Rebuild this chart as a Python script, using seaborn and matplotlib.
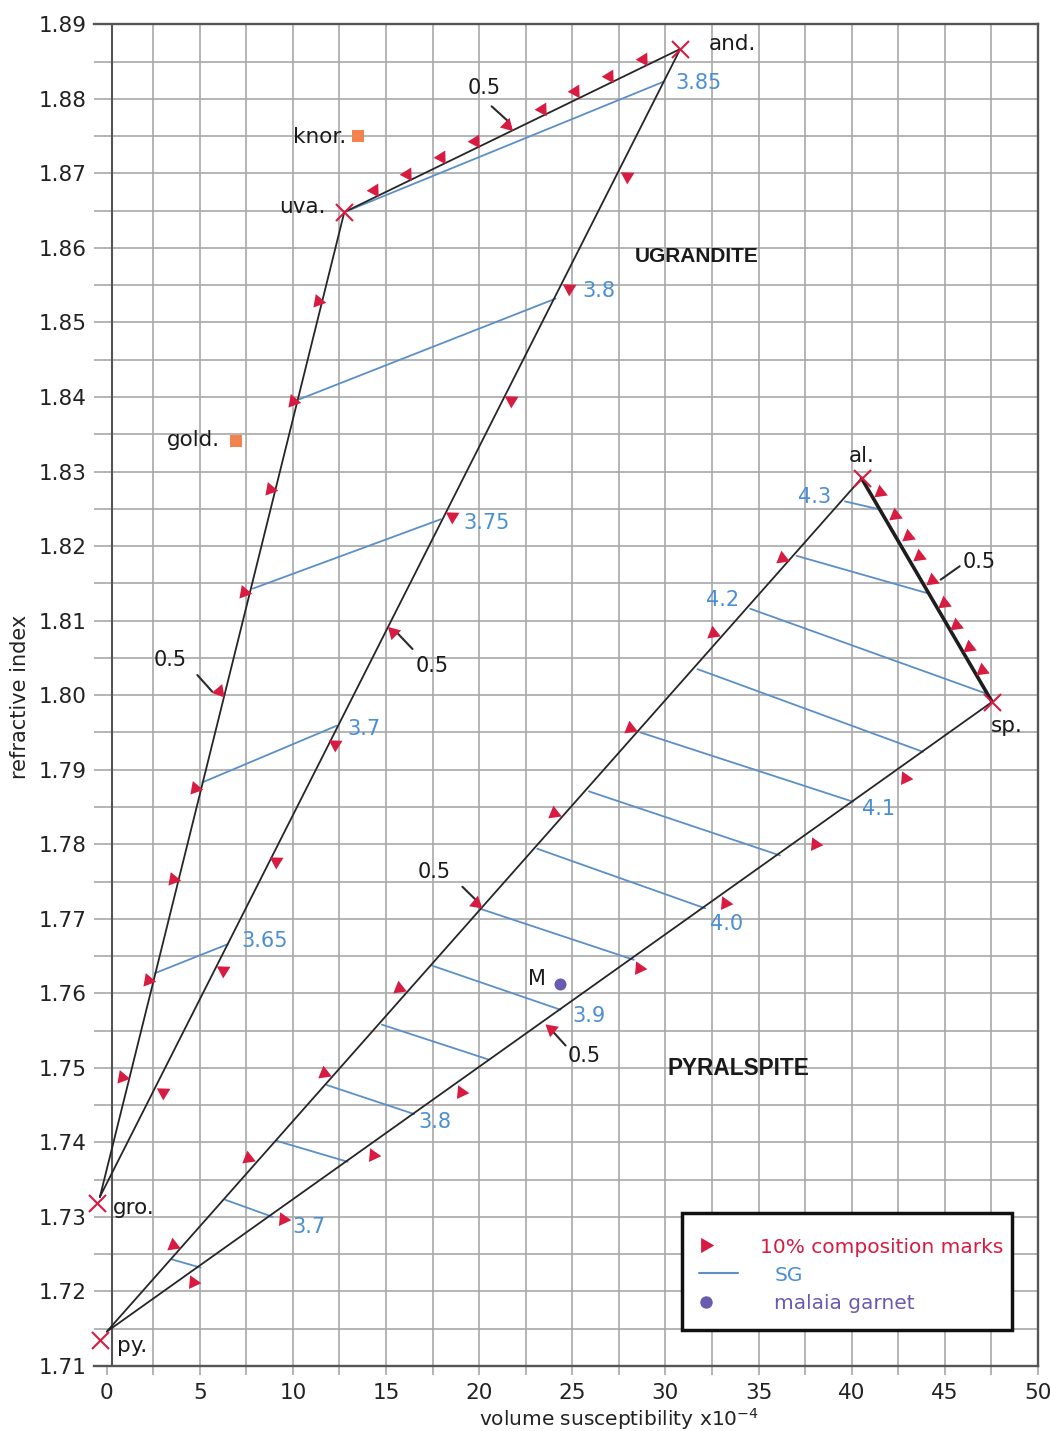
import numpy as np
import pandas as pd
import matplotlib
matplotlib.use("Agg")
import matplotlib.pyplot as plt
import seaborn as sns
from matplotlib.patches import Rectangle

# ---------------- data ----------------
# end-member marker positions
em_labels = ["py.", "gro.", "uva.", "and.", "al.", "sp."]
em_x = [-0.36, -0.54, 12.76, 30.80, 40.53, 47.54]
em_y = [1.7135, 1.7319, 1.8648, 1.8867, 1.8291, 1.7991]

# end-member label anchors
em_lab_x = [0.57, 0.32, 11.78, 32.31, 40.53, 47.49]
em_lab_y = [1.7129, 1.7315, 1.8658, 1.8876, 1.8324, 1.7961]
em_lab_ha = ["left", "left", "right", "left", "center", "left"]

# ugrandite triangle outline: gro -> uva -> and -> gro
ugr_x = [-0.36, 12.76, 30.80, -0.36]
ugr_y = [1.7327, 1.8648, 1.8867, 1.7327]
# pyralspite outline: al -> py -> sp
pyr_x = [40.53, 0.0, 47.54]
pyr_y = [1.8291, 1.7146, 1.7991]
# al - sp join (heavier)
alsp_x = [40.53, 47.54]
alsp_y = [1.8291, 1.7991]

# SG iso-lines, ugrandite
ugr_sg = [3.65, 3.70, 3.75, 3.80, 3.85]
ugr_sg_x0 = [2.59, 5.14, 7.85, 10.35, 12.76]
ugr_sg_y0 = [1.7627, 1.7883, 1.8143, 1.8397, 1.8648]
ugr_sg_x1 = [6.51, 12.35, 17.94, 24.10, 29.90]
ugr_sg_y1 = [1.7666, 1.7959, 1.8236, 1.8532, 1.8823]

# SG iso-lines, pyralspite
pyr_sg = [3.65, 3.70, 3.75, 3.80, 3.85, 3.90, 3.95, 4.00, 4.05, 4.10, 4.15, 4.20, 4.25, 4.30]
pyr_sg_x0 = [3.51, 6.37, 9.14, 11.82, 14.78, 17.49, 19.99, 23.12, 25.89, 28.66, 31.72, 34.55, 37.04, 39.64]
pyr_sg_y0 = [1.7243, 1.7323, 1.7402, 1.7477, 1.7558, 1.7637, 1.7714, 1.7794, 1.7871, 1.7950, 1.8035, 1.8116, 1.8187, 1.8260]
pyr_sg_x1 = [5.05, 8.92, 12.94, 16.51, 20.53, 24.37, 28.30, 32.14, 36.15, 40.08, 43.83, 47.13, 44.04, 41.37]
pyr_sg_y1 = [1.7232, 1.7300, 1.7374, 1.7438, 1.7511, 1.7578, 1.7645, 1.7714, 1.7785, 1.7857, 1.7924, 1.8003, 1.8137, 1.8250]

# SG labels
ugr_lab = ["3.65", "3.7", "3.75", "3.8", "3.85"]
ugr_lab_x = [7.26, 12.93, 19.14, 25.53, 30.53]
ugr_lab_y = [1.7673, 1.7957, 1.8234, 1.8545, 1.8824]
pyr_lab = ["3.7", "3.8", "3.9", "4.0", "4.1", "4.2", "4.3"]
pyr_lab_x = [9.96, 16.74, 24.99, 32.37, 40.56, 32.19, 37.13]
pyr_lab_y = [1.7289, 1.7430, 1.7572, 1.7696, 1.7850, 1.8130, 1.8269]

# 10% composition marks along each join (10 % ... 90 %)
uva_and_x = [14.37, 16.10, 17.94, 19.78, 21.51, 23.39, 25.17, 26.96, 28.78]
uva_and_y = [1.8678, 1.8699, 1.8722, 1.8743, 1.8765, 1.8786, 1.8810, 1.8831, 1.8853]
gro_uva_x = [0.80, 2.20, 3.57, 4.77, 6.03, 7.37, 8.75, 9.99, 11.33]
gro_uva_y = [1.7488, 1.7618, 1.7754, 1.7875, 1.8005, 1.8138, 1.8276, 1.8395, 1.8529]
gro_and_x = [3.03, 6.25, 9.11, 12.28, 15.39, 18.56, 21.69, 24.82, 27.94]
gro_and_y = [1.7468, 1.7631, 1.7777, 1.7935, 1.8085, 1.8240, 1.8396, 1.8546, 1.8697]
py_al_x = [3.54, 7.58, 11.69, 15.71, 19.82, 24.01, 28.12, 32.54, 36.24]
py_al_y = [1.7263, 1.7379, 1.7493, 1.7607, 1.7721, 1.7842, 1.7956, 1.8083, 1.8184]
py_sp_x = [4.64, 9.46, 14.28, 19.01, 23.84, 28.56, 33.21, 38.03, 42.85]
py_sp_y = [1.7213, 1.7297, 1.7383, 1.7467, 1.7552, 1.7634, 1.7721, 1.7801, 1.7889]
al_sp_x = [41.54, 42.31, 43.03, 43.60, 44.33, 44.94, 45.61, 46.28, 47.01]
al_sp_y = [1.8272, 1.8242, 1.8214, 1.8187, 1.8155, 1.8124, 1.8094, 1.8065, 1.8034]

# "0.5" call-outs: label position and leader line
half_tx = [20.26, 3.40, 17.49, 17.58, 25.62, 46.87]
half_ty = [1.8817, 1.8050, 1.8042, 1.7766, 1.7518, 1.8181]
lead_x0 = [20.67, 4.87, 16.42, 19.10, 24.64, 45.80]
lead_y0 = [1.8790, 1.8027, 1.8062, 1.7743, 1.7530, 1.8173]
lead_x1 = [21.51, 5.66, 15.62, 20.00, 23.84, 44.78]
lead_y1 = [1.8771, 1.8005, 1.8083, 1.7721, 1.7552, 1.8155]

# other garnets
other_labels = ["knor.", "gold."]
other_x = [13.48, 6.96]
other_y = [1.8750, 1.8341]
other_lab_x = [12.85, 6.11]
other_lab_y = [1.8752, 1.8345]
malaia_x = [24.33]
malaia_y = [1.7613]
malaia_lab_x = 23.57
malaia_lab_y = 1.7622

x_ticks = [0, 5, 10, 15, 20, 25, 30, 35, 40, 45, 50]
y_ticks = [1.71, 1.72, 1.73, 1.74, 1.75, 1.76, 1.77, 1.78, 1.79, 1.80,
           1.81, 1.82, 1.83, 1.84, 1.85, 1.86, 1.87, 1.88, 1.89]

# ---------------- style ----------------
RED = "#d81b41"
SGC = "#5b8fc9"
SGT = "#4a8fd4"
PURPLE = "#6a5bb0"
ORANGE = "#f2834f"
EDGE = "#262626"
GRID = "#a8a8a8"
FRAME = "#555555"

sns.set_theme(style="white")
plt.rcParams["font.family"] = ["DejaVu Sans"]
plt.rcParams["axes.unicode_minus"] = True

fig = plt.figure(figsize=(10.5, 14.31), dpi=100)
ax = fig.add_axes([0.0895, 0.0454, 0.8990, 0.9376])

# outlines
sns.lineplot(x=ugr_x, y=ugr_y, sort=False, estimator=None, color=EDGE, lw=1.3, ax=ax, zorder=3)
sns.lineplot(x=pyr_x, y=pyr_y, sort=False, estimator=None, color=EDGE, lw=1.3, ax=ax, zorder=3)
sns.lineplot(x=alsp_x, y=alsp_y, sort=False, estimator=None, color="#1e1e1e", lw=2.6, ax=ax, zorder=3)

# SG lines
rows = []
for i in range(len(ugr_sg)):
    rows.append(("u%d" % i, ugr_sg_x0[i], ugr_sg_y0[i]))
    rows.append(("u%d" % i, ugr_sg_x1[i], ugr_sg_y1[i]))
for i in range(len(pyr_sg)):
    rows.append(("p%d" % i, pyr_sg_x0[i], pyr_sg_y0[i]))
    rows.append(("p%d" % i, pyr_sg_x1[i], pyr_sg_y1[i]))
sg_df = pd.DataFrame(rows, columns=["seg", "x", "y"])
sns.lineplot(data=sg_df, x="x", y="y", units="seg", estimator=None, sort=False,
             color=SGC, lw=1.3, ax=ax, zorder=2)

for t, x, y in zip(ugr_lab, ugr_lab_x, ugr_lab_y):
    ax.text(x, y, t, color=SGT, fontsize=15, ha="left", va="center_baseline", zorder=6)
for t, x, y in zip(pyr_lab, pyr_lab_x, pyr_lab_y):
    ax.text(x, y, t, color=SGT, fontsize=15, ha="left", va="center_baseline", zorder=6)

# composition marks: (x, y, normal rotation, rotation of the 0.5 mark)
mark_sets = [
    (uva_and_x, uva_and_y, 92, -135),
    (gro_uva_x, gro_uva_y, -100, -140),
    (gro_and_x, gro_and_y, 178, 45),
    (py_al_x, py_al_y, 8, -130),
    (py_sp_x, py_sp_y, -95, 50),
    (al_sp_x, al_sp_y, -112, -112),
]
for xs, ys, rot, rot_half in mark_sets:
    idx = [i for i in range(len(xs)) if i != 4]
    sns.scatterplot(x=[xs[i] for i in idx], y=[ys[i] for i in idx], marker=(3, 0, rot),
                    s=130, color=RED, linewidth=0, ax=ax, zorder=5)
    sns.scatterplot(x=[xs[4]], y=[ys[4]], marker=(3, 0, rot_half),
                    s=130, color=RED, linewidth=0, ax=ax, zorder=5)

# 0.5 call-outs
for i in range(len(half_tx)):
    ax.plot([lead_x0[i], lead_x1[i]], [lead_y0[i], lead_y1[i]], color="#2a2a2a", lw=1.5, zorder=4)
    ax.text(half_tx[i], half_ty[i], "0.5", fontsize=15, color="#1a1a1a",
            ha="center", va="center_baseline", zorder=6)

# end members
sns.scatterplot(x=em_x, y=em_y, marker="x", s=150, color=RED, linewidth=1.5, ax=ax,
                zorder=7, clip_on=False)
for t, x, y, ha in zip(em_labels, em_lab_x, em_lab_y, em_lab_ha):
    ax.text(x, y, t, fontsize=15.5, color="#1a1a1a", ha=ha, va="center_baseline", zorder=6)

# other garnets
sns.scatterplot(x=other_x, y=other_y, marker="s", s=80, color=ORANGE, linewidth=0, ax=ax, zorder=6)
for t, x, y in zip(other_labels, other_lab_x, other_lab_y):
    ax.text(x, y, t, fontsize=15.5, color="#1a1a1a", ha="right", va="center_baseline", zorder=6)
sns.scatterplot(x=malaia_x, y=malaia_y, marker="o", s=75, color=PURPLE, linewidth=0, ax=ax, zorder=6)
ax.text(malaia_lab_x, malaia_lab_y, "M", fontsize=15, color="#1a1a1a", ha="right",
        va="center_baseline", zorder=6)

# region names
ax.text(31.67, 1.8591, "UGRANDITE", fontsize=15, fontweight="bold", color="#1a1a1a",
        family=["Liberation Sans", "DejaVu Sans"], ha="center", va="center_baseline", zorder=6)
ax.text(33.92, 1.7503, "PYRALSPITE", fontsize=16.3, fontweight="bold", color="#1a1a1a",
        family=["Liberation Sans", "DejaVu Sans"], ha="center", va="center_baseline", zorder=6)

# axes range, grid, ticks (after seaborn calls so nothing is overridden)
ax.set_xlim(-0.68, 49.87)
ax.set_ylim(1.71, 1.89)
for gx in np.arange(2.5, 49.9, 2.5):
    ax.axvline(gx, color=GRID, lw=1.2, zorder=0)
for gy in np.arange(1.715, 1.8899, 0.005):
    ax.axhline(gy, color=GRID, lw=1.2, zorder=0)
ax.axvline(0.27, color=FRAME, lw=1.5, zorder=1)

ax.set_xticks(x_ticks)
ax.set_xticks(np.arange(2.5, 50, 5), minor=True)
ax.set_yticks(y_ticks)
ax.set_yticklabels([f"{v:.2f}" for v in y_ticks])
ax.tick_params(axis="x", which="both", direction="out", length=6.5, width=1.2,
               color=GRID, labelsize=15.5, pad=6, labelcolor="#222222", bottom=True)
ax.tick_params(axis="y", which="both", length=0, labelsize=15.5, pad=5.5,
               labelcolor="#222222", left=True)
ax.spines["left"].set_visible(False)
for s in ["top", "right", "bottom"]:
    ax.spines[s].set_color(FRAME)
    ax.spines[s].set_linewidth(1.7)
ax.set_xlabel("")
ax.set_ylabel("")

# legend box
ax.add_patch(Rectangle((0.6232, 0.0268), 0.9721 - 0.6232, 0.1138 - 0.0268,
                       transform=ax.transAxes, facecolor="white", edgecolor="#111111",
                       lw=2.5, zorder=8))
ax.scatter([0.6472], [0.0902], marker=(3, 0, -90), s=160, color=RED, linewidths=0,
           transform=ax.transAxes, zorder=9)
ax.text(0.7055, 0.0902, "10% composition marks", color=RED, fontsize=14.5,
        transform=ax.transAxes, ha="left", va="center_baseline", zorder=9)
ax.plot([0.6412, 0.6825], [0.0691, 0.0691], color=SGC, lw=1.5, transform=ax.transAxes, zorder=9)
ax.text(0.7207, 0.0691, "SG", color=SGT, fontsize=14.5, transform=ax.transAxes,
        ha="left", va="center_baseline", zorder=9)
ax.scatter([0.6483], [0.0479], marker="o", s=80, color=PURPLE, linewidths=0,
           transform=ax.transAxes, zorder=9)
ax.text(0.7207, 0.0479, "malaia garnet", color=PURPLE, fontsize=14.5, transform=ax.transAxes,
        ha="left", va="center_baseline", zorder=9)

# axis titles
fig.text(20.0 / 1050, 1 - 697.0 / 1431, "refractive index", rotation=90, fontsize=15,
         color="#222222", ha="center", va="center")
fig.text(619.0 / 1050, 0.0035, r"volume susceptibility x10$^{-4}$", fontsize=14.5,
         color="#222222", ha="center", va="baseline")

fig.savefig("out.png", dpi=100)
